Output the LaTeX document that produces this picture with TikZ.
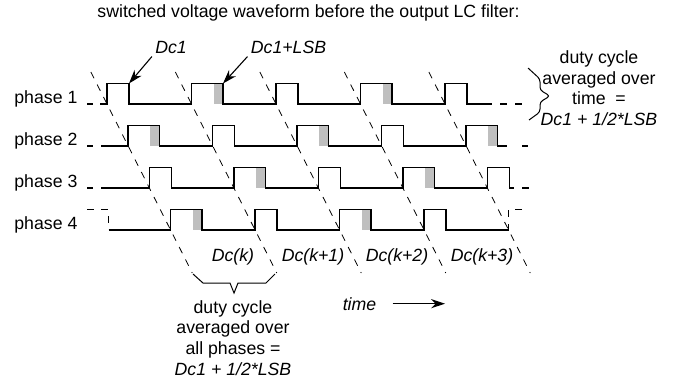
\documentclass[tikz,border=0pt]{standalone}
\usepackage{fontspec}
\setmainfont{Liberation Sans}
\usetikzlibrary{arrows.meta,calc}

\begin{document}
\begin{tikzpicture}[
  x=0.5pt, y=-0.5pt,
  font=\fontsize{8.85}{10.3}\selectfont,
  wave/.style={line width=0.55pt},
  lsb/.style={fill=black!25},
  slant/.style={line width=0.4pt, dash pattern=on 3.5pt off 3.5pt},
  ext/.style={line width=0.55pt, dash pattern=on 3.5pt off 4pt},
  ptr/.style={-{Stealth[length=7pt,width=4.6pt]}, line width=0.55pt},
  lbl/.style={font=\fontsize{8.85}{10.3}\selectfont\itshape, inner sep=1.5pt},
  phase/.style={anchor=base west, inner sep=0pt},
  note/.style={align=center, inner sep=0pt, anchor=north}
]
\useasboundingbox (0,0) rectangle (689,388);
\node[anchor=base] (title) at (308.5,17) {switched voltage waveform before the output LC filter:};
\foreach \r in {1,...,4}
  \node[phase] (ph\r) at (14,61+42*\r) {phase \r};
% extra LSB slices
\foreach \x/\y in {191.5/104, 360.5/104, 128/146, 297/146, 466/146,
                   234/188, 403/188, 170.5/230, 339.5/230}
  \fill[lsb] (\x+22,\y) rectangle ++(9.5,-20.5);
% phase 1
\draw[wave] (100,104) foreach \x/\w in {107/22,191.5/31.5,276/22,360.5/31.5,445/22}
  { -- (\x,104) -- ++(0,-20.5) -- ++(\w,0) -- ++(0,20.5) } -- (492,104);
\draw[ext] (87,104) -- (93,104);
\draw[ext] (500,104) -- (522,104);
% phase 2
\draw[wave] (101,146) foreach \x/\w in {128/31.5,212.5/22,297/31.5,381.5/22,466/31.5}
  { -- (\x,146) -- ++(0,-20.5) -- ++(\w,0) -- ++(0,20.5) } -- (507,146);
\draw[ext] (87,146) -- (93,146);
\draw[ext] (522,146) -- (528,146);
% phase 3
\draw[wave] (101,188) foreach \x/\w in {149.5/22,234/31.5,318.5/22,403/31.5,487.5/22}
  { -- (\x,188) -- ++(0,-20.5) -- ++(\w,0) -- ++(0,20.5) } -- (514,188);
\draw[ext] (87,188) -- (93,188);
\draw[ext] (522,188) -- (529,188);
% phase 4
\draw[wave] (108.5,230) foreach \x/\w in {170.5/31.5,255/22,339.5/31.5,424/22}
  { -- (\x,230) -- ++(0,-20.5) -- ++(\w,0) -- ++(0,20.5) } -- (508.5,230);
\draw[ext, dash pattern=on 3.5pt off 3.5pt] (87,209.5) -- (108.5,209.5) -- (108.5,230);
\draw[ext, dash pattern=on 3.5pt off 3.5pt] (522,209.5) -- (508.5,209.5) -- (508.5,230);
% phase shift lines
\foreach \k in {0,...,4}
  \draw[slant] (90.85+84.5*\k,72) -- (192.3+84.5*\k,273);
% braces
\draw[line width=0.5pt] (193,274) -- (203,283) -- (230,283) -- (234,293)
  -- (238,283) -- (266,283) -- (275,274);
\draw[line width=0.5pt, rounded corners=1.5pt] (528,68) -- (540,79) -- (540,90)
  -- (550,96) -- (540,102) -- (540,112) -- (529,120);
% pointers
\node[lbl, anchor=base] (dcone) at (171,53) {Dc1};
\node[lbl, anchor=base] (dclsb) at (288.5,53) {Dc1+LSB};
\coordinate (cone) at (129,83.5);
\coordinate (clsb) at (223,83.5);
\draw[ptr] (dcone.south west) -- (cone);
\draw[ptr] (dclsb.south west) -- (clsb);
% periods
\node[lbl, anchor=base] (dck0) at (233,261) {Dc(k)};
\node[lbl, anchor=base] (dck1) at (313,261) {Dc(k+1)};
\node[lbl, anchor=base] (dck2) at (397,261) {Dc(k+2)};
\node[lbl, anchor=base] (dck3) at (482,261) {Dc(k+3)};
\node[lbl, anchor=base] (time) at (359.5,310) {time};
\coordinate (tend) at (445,304);
\draw[ptr, shorten <=6.5pt] (time.east) -- (time.east -| tend);
% averages
\node[note] (avgtime) at (599,50.5) {duty cycle\\averaged over\\time~ =\\\textit{Dc1 + 1/2*LSB}};
\node[note] (avgphase) at (233,300) {duty cycle\\averaged over\\all phases =\\\textit{Dc1 + 1/2*LSB}};
\end{tikzpicture}
\end{document}
